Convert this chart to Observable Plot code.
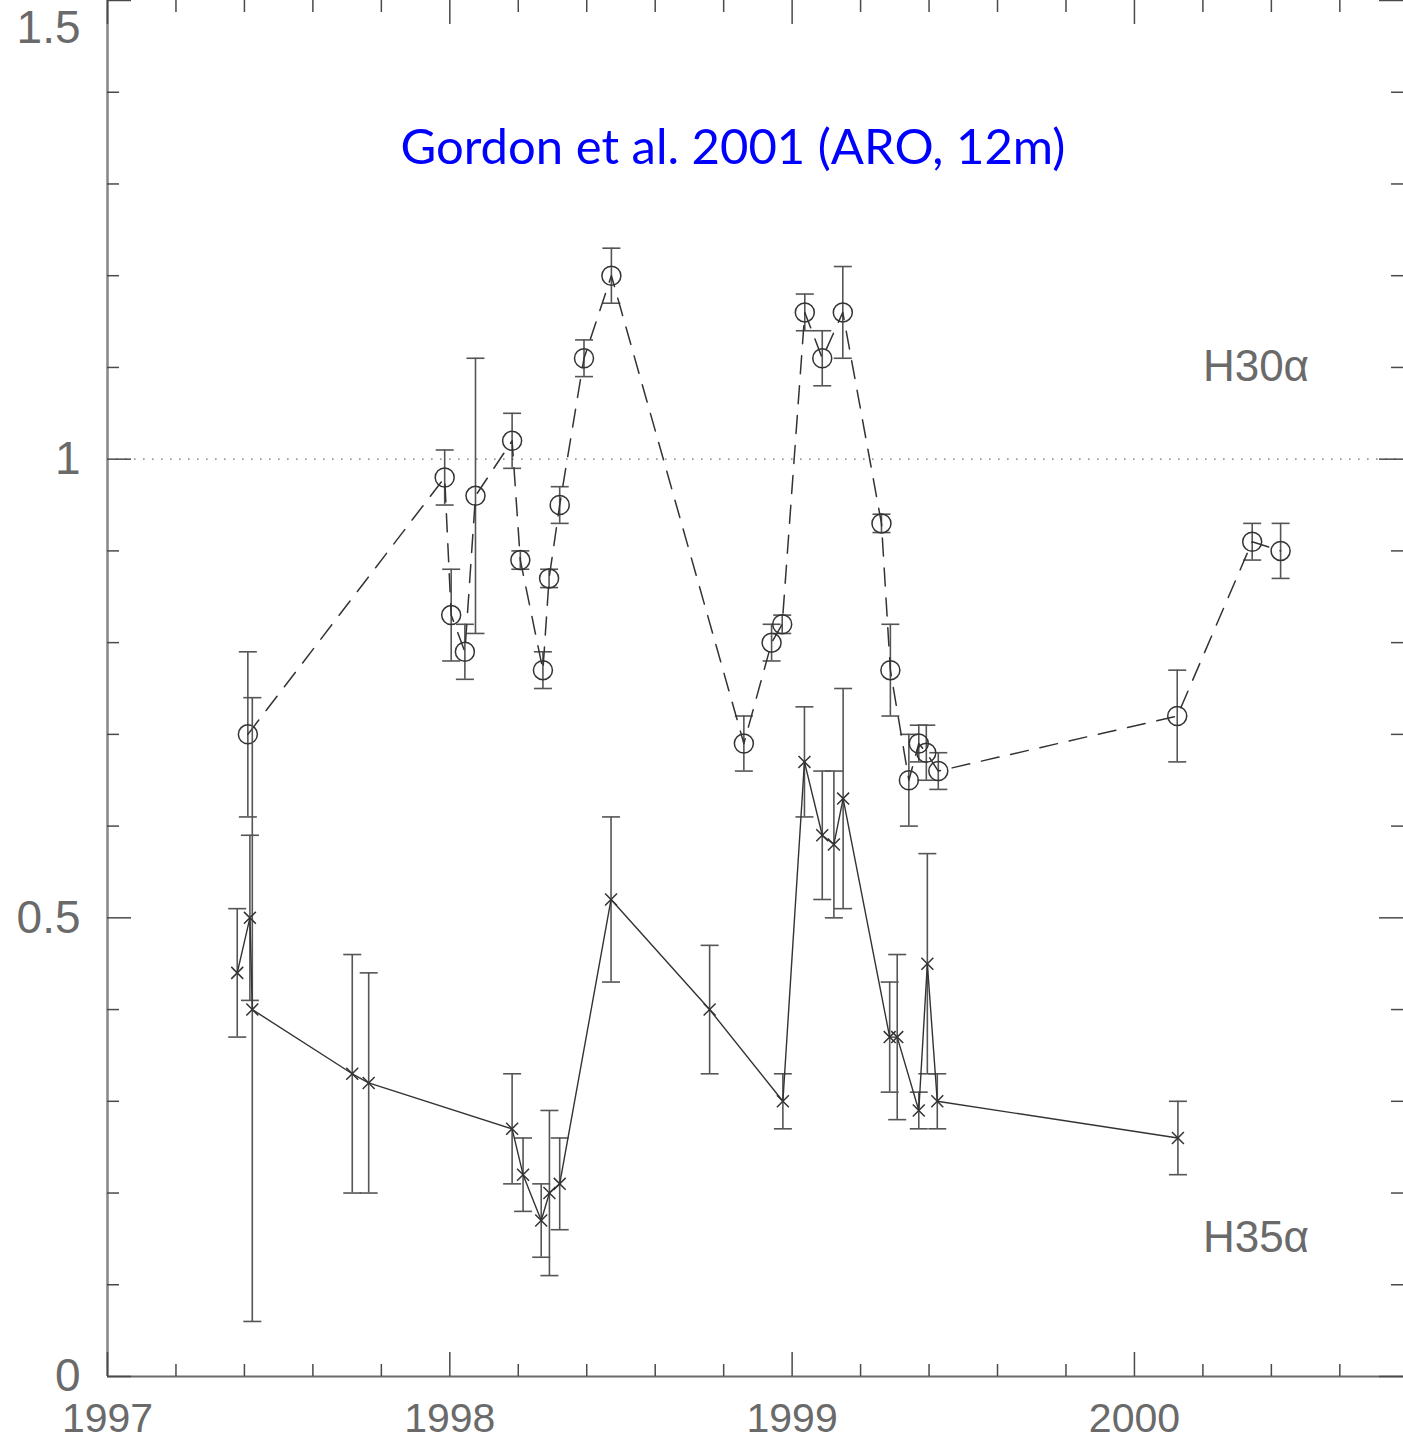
<!DOCTYPE html>
<html>
<head>
<meta charset="utf-8">
<script src="https://cdn.jsdelivr.net/npm/d3@7"></script>
<script src="https://cdn.jsdelivr.net/npm/@observablehq/plot@0.6"></script>
<style>
  html, body { margin: 0; padding: 0; background: #fff; overflow: hidden; }
  #chart svg { display: block; }
</style>
</head>
<body>
<div id="chart"></div>
<script>
// H30α line-to-continuum ratio (open circles, dashed line)
const h30Year  = [1997.410, 1997.985, 1998.004, 1998.044, 1998.075, 1998.182, 1998.206, 1998.272, 1998.290,
                  1998.321, 1998.392, 1998.472, 1998.859, 1998.940, 1998.971, 1999.037, 1999.088, 1999.148,
                  1999.261, 1999.287, 1999.341, 1999.370, 1999.392, 1999.427, 2000.125, 2000.344, 2000.427];
const h30Ratio = [0.70, 0.98, 0.83, 0.79, 0.96, 1.02, 0.89, 0.77, 0.87,
                  0.95, 1.11, 1.20, 0.69, 0.80, 0.82, 1.16, 1.11, 1.16,
                  0.93, 0.77, 0.65, 0.69, 0.68, 0.66, 0.72, 0.91, 0.90];
const h30Err   = [0.09, 0.03, 0.05, 0.03, 0.15, 0.03, 0.01, 0.02, 0.01,
                  0.02, 0.02, 0.03, 0.03, 0.02, 0.01, 0.02, 0.03, 0.05,
                  0.01, 0.05, 0.05, 0.02, 0.03, 0.02, 0.05, 0.02, 0.03];

// H35α line-to-continuum ratio (crosses, solid line)
const h35Year  = [1997.379, 1997.416, 1997.423, 1997.715, 1997.763, 1998.182, 1998.214, 1998.267, 1998.291,
                  1998.321, 1998.471, 1998.759, 1998.973, 1999.036, 1999.088, 1999.122, 1999.149, 1999.285,
                  1999.307, 1999.370, 1999.395, 1999.424, 2000.127];
const h35Ratio = [0.44, 0.50, 0.40, 0.33, 0.32, 0.27, 0.22, 0.17, 0.20,
                  0.21, 0.52, 0.40, 0.30, 0.67, 0.59, 0.58, 0.63, 0.37,
                  0.37, 0.29, 0.45, 0.30, 0.26];
const h35Err   = [0.07, 0.09, 0.34, 0.13, 0.12, 0.06, 0.04, 0.04, 0.09,
                  0.05, 0.09, 0.07, 0.03, 0.06, 0.07, 0.08, 0.12, 0.06,
                  0.09, 0.02, 0.12, 0.03, 0.04];

// Axis extents and labelled ticks
const xExtent = [1997, 2000.786];
const yExtent = [0, 1.5];
const xTickLabels = [1997, 1998, 1999, 2000];
const yTickLabels = [0, 0.5, 1, 1.5];
const referenceLevel = [1];

// Text annotations
const titleText = ["Gordon et al. 2001 (ARO, 12m)"];
const titlePos = {x: 1998.827, y: 1.339};
const seriesLabels = ["H30α", "H35α"];
const seriesLabelYear = [2000.200, 2000.200];
const seriesLabelLevel = [1.101, 0.151];

// Layout
const W = 1403, H = 1440;
const mL = 107, mR = 0, mT = 0, mB = 64;
const frameW = W - mL - mR, frameH = H - mT - mB;
const minorLen = 12, majorLen = 24;

const toRows = (years, ratios, errs) =>
  years.map((year, i) => ({year, ratio: ratios[i], lo: ratios[i] - errs[i], hi: ratios[i] + errs[i]}));
const h30 = toRows(h30Year, h30Ratio, h30Err);
const h35 = toRows(h35Year, h35Ratio, h35Err);

// minor ticks: every 0.2 yr and every 0.1 in ratio
const xMinor = d3.range(1, 19).map(i => +(1997 + i * 0.2).toFixed(1))
  .filter(v => !xTickLabels.includes(v) && v <= xExtent[1]);
const yMinor = d3.range(1, 15).map(i => i / 10).filter(v => !yTickLabels.includes(v));

// the topmost label sits on the frame's upper edge, so it hangs below its tick
const yTop = yExtent[1];
const yLabelsMid = yTickLabels.filter(v => v !== yTop);

// horizontal bar used as an error-bar cap
const cap = {
  draw(ctx, size) {
    const r = Math.sqrt(size / Math.PI);
    ctx.moveTo(-r, 0);
    ctx.lineTo(r, 0);
  }
};

const tickColor = "#4a4a4a";
const inkColor = "#333";
const barColor = "#555";
const labelColor = "#6a6a6a";

const labels = seriesLabels.map((t, i) => ({t, x: seriesLabelYear[i], y: seriesLabelLevel[i]}));

const chart = Plot.plot({
  width: W,
  height: H,
  marginLeft: mL,
  marginRight: mR,
  marginTop: mT,
  marginBottom: mB,
  x: {domain: xExtent},
  y: {domain: yExtent},
  style: {background: "#fff", fontFamily: "'Liberation Sans', Arial, sans-serif", color: labelColor},
  marks: [
    // dotted unity level
    Plot.ruleY(referenceLevel, {stroke: "#999", strokeWidth: 1.6, strokeDasharray: "1.6,7.4"}),

    // frame edges
    Plot.ruleX([xExtent[0]], {stroke: "#8a8a8a", strokeWidth: 2.6}),
    Plot.ruleY([yExtent[0]], {stroke: "#6a6a6a", strokeWidth: 2}),

    // inward ticks: bottom and top
    Plot.ruleX(xMinor, {insetTop: frameH - minorLen, stroke: tickColor, strokeWidth: 1.5}),
    Plot.ruleX(xTickLabels, {insetTop: frameH - majorLen, stroke: tickColor, strokeWidth: 1.5}),
    Plot.ruleX(xMinor, {insetBottom: frameH - minorLen, stroke: tickColor, strokeWidth: 1.5}),
    Plot.ruleX(xTickLabels, {insetBottom: frameH - majorLen, stroke: tickColor, strokeWidth: 1.5}),
    // inward ticks: left and right
    Plot.ruleY(yMinor, {insetRight: frameW - minorLen, stroke: tickColor, strokeWidth: 1.5}),
    Plot.ruleY(yTickLabels, {insetRight: frameW - majorLen, stroke: tickColor, strokeWidth: 1.5}),
    Plot.ruleY(yMinor, {insetLeft: frameW - minorLen, stroke: tickColor, strokeWidth: 1.5}),
    Plot.ruleY(yTickLabels, {insetLeft: frameW - majorLen, stroke: tickColor, strokeWidth: 1.5}),

    // tick labels
    Plot.axisX(xTickLabels, {anchor: "bottom", tickSize: 0, tickPadding: 26, fontSize: 41,
      fill: labelColor, tickFormat: d => String(d), label: null}),
    Plot.axisY(yLabelsMid, {anchor: "left", tickSize: 0, tickPadding: 27, fontSize: 46,
      fill: labelColor, tickFormat: d => String(d), label: null}),
    Plot.axisY([yTop], {anchor: "left", tickSize: 0, tickPadding: 27, fontSize: 46,
      lineAnchor: "top", dy: 10, fill: labelColor, tickFormat: d => String(d), label: null}),

    // H30α: error bars, dashed line, circles
    Plot.ruleX(h30, {x: "year", y1: "lo", y2: "hi", stroke: barColor, strokeWidth: 1.6}),
    Plot.dot(h30, {x: "year", y: "hi", symbol: cap, r: 9, stroke: barColor, strokeWidth: 1.6}),
    Plot.dot(h30, {x: "year", y: "lo", symbol: cap, r: 9, stroke: barColor, strokeWidth: 1.6}),
    Plot.line(h30, {x: "year", y: "ratio", stroke: inkColor, strokeWidth: 1.5, strokeDasharray: "18,12"}),
    Plot.dot(h30, {x: "year", y: "ratio", symbol: "circle", r: 9.5, fill: "none", stroke: inkColor, strokeWidth: 1.5}),

    // H35α: error bars, solid line, crosses
    Plot.ruleX(h35, {x: "year", y1: "lo", y2: "hi", stroke: barColor, strokeWidth: 1.6}),
    Plot.dot(h35, {x: "year", y: "hi", symbol: cap, r: 9, stroke: barColor, strokeWidth: 1.6}),
    Plot.dot(h35, {x: "year", y: "lo", symbol: cap, r: 9, stroke: barColor, strokeWidth: 1.6}),
    Plot.line(h35, {x: "year", y: "ratio", stroke: inkColor, strokeWidth: 1.4}),
    Plot.dot(h35, {x: "year", y: "ratio", symbol: "times", r: 5.5, stroke: inkColor, strokeWidth: 1.5}),

    // series labels
    Plot.text(labels, {x: "x", y: "y", text: "t", textAnchor: "start", fontSize: 44, fill: labelColor}),

    // title
    Plot.text(titleText, {x: () => titlePos.x, y: () => titlePos.y, text: d => d, fontSize: 49,
      fill: "#0000ff", fontFamily: "Lato, 'Open Sans', sans-serif"})
  ]
});

document.getElementById("chart").appendChild(chart);
</script>
</body>
</html>
